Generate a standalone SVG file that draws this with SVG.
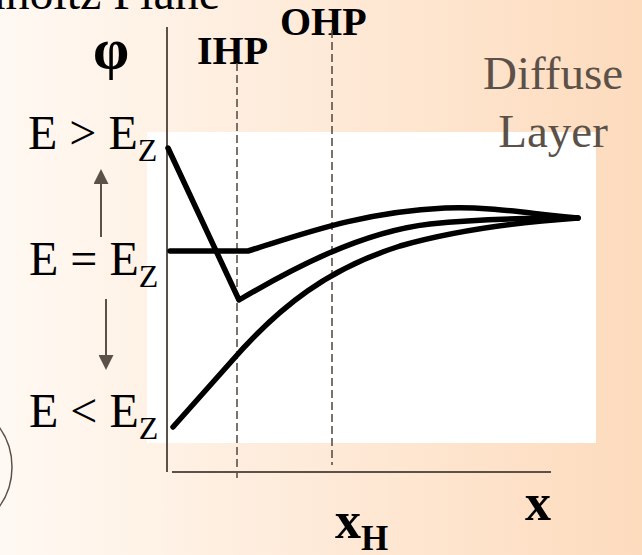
<svg xmlns="http://www.w3.org/2000/svg" width="642" height="555" viewBox="0 0 642 555">
<defs>
<linearGradient id="bg" x1="0" y1="0" x2="1" y2="0">
<stop offset="0" stop-color="#fff9f3"/>
<stop offset="1" stop-color="#fddbbd"/>
</linearGradient>
<marker id="ah" viewBox="0 0 16 15" refX="0" refY="7.5" markerWidth="16" markerHeight="15" markerUnits="userSpaceOnUse" orient="auto">
<path d="M0,0 L15,7.5 L0,15 Z" fill="#5b5148"/>
</marker>
<style>
.serif{font-family:"Liberation Serif","Times New Roman",serif;}
.lbl{font-size:48px;fill:#000;}
.bold{font-weight:bold;}
.axis{stroke:#5b5148;stroke-width:2;fill:none;}
.dash{stroke:#5b5148;stroke-width:1.6;stroke-dasharray:8 4;fill:none;}
.curve{stroke:#000;stroke-width:5.5;fill:none;stroke-linejoin:round;stroke-linecap:round;}
.arr{stroke:#5b5148;stroke-width:2;fill:none;}
</style>
</defs>
<rect x="0" y="0" width="642" height="555" fill="url(#bg)"/>
<rect x="147" y="132" width="449" height="311" fill="#ffffff"/>
<circle cx="-56" cy="467" r="68" fill="none" stroke="#5b5148" stroke-width="1.5"/>

<g id="title"><text class="serif" x="220" y="9" font-size="48" text-anchor="end" fill="#000">Helmholtz Plane</text></g>
<g id="phi"><text class="serif bold" x="111" y="68" font-size="58" text-anchor="middle" fill="#000">φ</text></g>
<g id="ihp"><text class="serif bold" x="197" y="64" font-size="40" fill="#000">IHP</text></g>
<g id="ohp"><text class="serif bold" x="280" y="35" font-size="40" fill="#000">OHP</text></g>
<g id="diffuse"><text class="serif" x="553" y="89" font-size="47" text-anchor="middle" fill="#5b5148">Diffuse</text><text class="serif" x="553" y="147" font-size="47" text-anchor="middle" fill="#5b5148">Layer</text></g>
<g id="e-gt"><text class="serif lbl" x="28" y="149">E &gt; E<tspan font-size="32" dy="12">Z</tspan></text></g>
<g id="e-eq"><text class="serif lbl" x="29" y="275">E = E<tspan font-size="32" dy="12">Z</tspan></text></g>
<g id="e-lt"><text class="serif lbl" x="29" y="427">E &lt; E<tspan font-size="32" dy="12">Z</tspan></text></g>
<g id="x-label"><text class="serif bold" x="525" y="520" font-size="52" fill="#000">x</text></g>
<g id="xh-label"><text class="serif bold" x="335" y="538" font-size="52" fill="#000">x<tspan font-size="35" dy="12">H</tspan></text></g>

<g id="axes">
<line class="axis" x1="167" y1="27" x2="167" y2="472"/>
<line class="axis" x1="172" y1="472" x2="551" y2="472"/>
<line class="dash" x1="237" y1="63" x2="237" y2="478"/>
<line class="dash" x1="332" y1="30" x2="332" y2="465"/>
</g>

<g id="connectors">
<line class="arr" x1="101" y1="237" x2="101" y2="184" marker-end="url(#ah)"/>
<line class="arr" x1="106" y1="299" x2="106" y2="355" marker-end="url(#ah)"/>
<path class="curve" d="M168,148 L239,300 C290,270 360,232 430,224 C480,219 530,218 578,218"/>
<path class="curve" d="M170,251 L248,251 C300,235 360,212 445,208 C490,206 530,214 578,218"/>
<path class="curve" d="M173,427 L230,363 C280,305 330,268 400,246 C460,229 520,222 578,218"/>
</g>
</svg>
